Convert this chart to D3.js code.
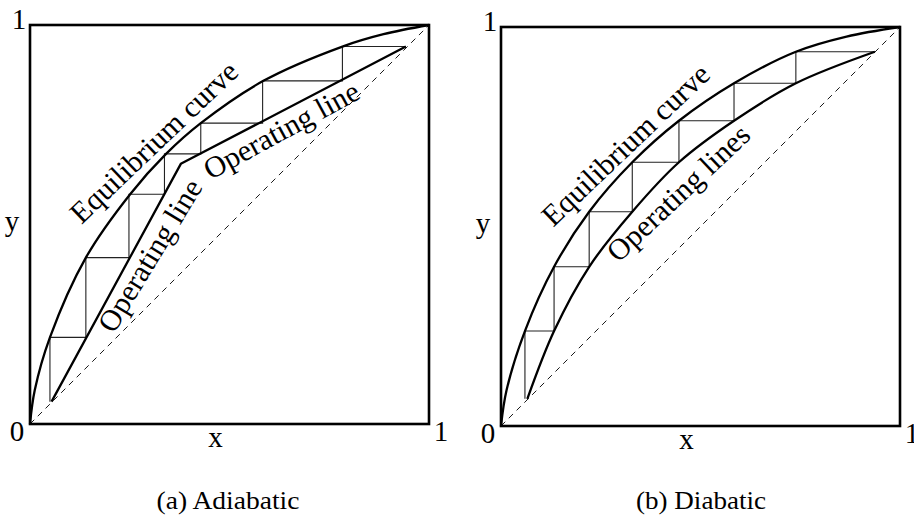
<!DOCTYPE html>
<html>
<head>
<meta charset="utf-8">
<script src="https://cdn.jsdelivr.net/npm/d3@7"></script>
<style>
  html, body { margin: 0; padding: 0; background: #fff; }
  svg { display: block; }
</style>
</head>
<body>
<svg id="chart" width="914" height="516"></svg>
<script>
// ---------- data ----------
const captions = ["(a) Adiabatic", "(b) Diabatic"];
const tickLabels = ["0", "1"];
const axisNames = ["x", "y"];

// Panel (a) adiabatic
const eqA_x = [0, 0.012, 0.050, 0.140, 0.251, 0.341, 0.428, 0.585, 0.783, 0.886, 1];
const eqA_y = [0, 0.085, 0.217, 0.417, 0.576, 0.677, 0.754, 0.860, 0.946, 0.977, 1];
const opA_x = [0.054, 0.378, 0.942];
const opA_y = [0.056, 0.652, 0.946];
const stairA_x = [0.050, 0.140, 0.248, 0.337, 0.428, 0.583, 0.783, 0.942];
const stairA_y = [0.056, 0.217, 0.417, 0.576, 0.677, 0.754, 0.860, 0.946];

// Panel (b) diabatic
const eqB_x = [0, 0.014, 0.060, 0.133, 0.221, 0.329, 0.446, 0.584, 0.739, 0.866, 1];
const eqB_y = [0, 0.090, 0.238, 0.399, 0.537, 0.661, 0.765, 0.859, 0.938, 0.976, 1];
const opB_x = [0.066, 0.133, 0.221, 0.329, 0.446, 0.584, 0.739, 0.937];
const opB_y = [0.068, 0.238, 0.399, 0.537, 0.661, 0.765, 0.859, 0.938];
const stairB_x = [0.060, 0.133, 0.221, 0.329, 0.446, 0.584, 0.739, 0.937];
const stairB_y = [0.068, 0.238, 0.399, 0.537, 0.661, 0.765, 0.859, 0.938];

// curve labels: text, position in data units, angle
const labelsA = [
  { text: "Equilibrium curve", x: 0.315, y: 0.702, angle: -43.6 },
  { text: "Operating line",    x: 0.306, y: 0.419, angle: -58.7 },
  { text: "Operating line",    x: 0.633, y: 0.731, angle: -28.6 }
];
const labelsB = [
  { text: "Equilibrium curve", x: 0.317, y: 0.700, angle: -43.6 },
  { text: "Operating lines",   x: 0.449, y: 0.579, angle: -43.3 }
];

// ---------- drawing ----------
const svg = d3.select("#chart");
const serif = "'Liberation Serif', 'Times New Roman', serif";
const smooth = d3.curveCatmullRom.alpha(0.5);

const panels = [
  { left: 30, top: 25, size: 399, eqX: eqA_x, eqY: eqA_y, opX: opA_x, opY: opA_y,
    opCurve: d3.curveLinear, stX: stairA_x, stY: stairA_y, labels: labelsA, caption: captions[0], capX: 228, capW: 143 },
  { left: 501, top: 27, size: 399, eqX: eqB_x, eqY: eqB_y, opX: opB_x, opY: opB_y,
    opCurve: smooth, stX: stairB_x, stY: stairB_y, labels: labelsB, caption: captions[1], capX: 701, capW: 130 }
];

panels.forEach(p => {
  const x = d3.scaleLinear().domain([0, 1]).range([p.left, p.left + p.size]);
  const y = d3.scaleLinear().domain([0, 1]).range([p.top + p.size, p.top]);
  const g = svg.append("g");

  // diagonal dashed line
  g.append("line")
    .attr("x1", x(0)).attr("y1", y(0)).attr("x2", x(1)).attr("y2", y(1))
    .attr("stroke", "#000").attr("stroke-width", 0.9)
    .attr("stroke-dasharray", "6,5");

  // staircase
  const pts = [[p.stX[0], p.stY[0]]];
  for (let i = 1; i < p.stY.length; i++) {
    pts.push([p.stX[i - 1], p.stY[i]]);
    pts.push([p.stX[i], p.stY[i]]);
  }
  g.append("path")
    .attr("d", d3.line().x(d => x(d[0])).y(d => y(d[1]))(pts))
    .attr("fill", "none").attr("stroke", "#222").attr("stroke-width", 1.1);

  // equilibrium curve
  const eq = p.eqX.map((v, i) => [v, p.eqY[i]]);
  g.append("path")
    .attr("d", d3.line().curve(smooth).x(d => x(d[0])).y(d => y(d[1]))(eq))
    .attr("fill", "none").attr("stroke", "#000").attr("stroke-width", 2.3);

  // operating line(s)
  const op = p.opX.map((v, i) => [v, p.opY[i]]);
  g.append("path")
    .attr("d", d3.line().curve(p.opCurve).x(d => x(d[0])).y(d => y(d[1]))(op))
    .attr("fill", "none").attr("stroke", "#000").attr("stroke-width", 2.3)
    .attr("stroke-linejoin", "round");

  // frame
  g.append("rect")
    .attr("x", x(0)).attr("y", y(1)).attr("width", x(1) - x(0)).attr("height", y(0) - y(1))
    .attr("fill", "none").attr("stroke", "#000").attr("stroke-width", 2.6);

  // tick labels
  const t = g.append("g").attr("font-family", serif).attr("font-size", 29).attr("fill", "#000");
  t.append("text").attr("x", x(0) - 11).attr("y", y(1) + 4).attr("text-anchor", "middle").text(tickLabels[1]);
  t.append("text").attr("x", x(0) - 13).attr("y", y(0) + 17).attr("text-anchor", "middle").text(tickLabels[0]);
  t.append("text").attr("x", x(1) + 12).attr("y", y(0) + 17).attr("text-anchor", "middle").text(tickLabels[1]);
  t.append("text").attr("x", x(0.465)).attr("y", y(0) + 23).attr("text-anchor", "middle").text(axisNames[0]);
  t.append("text").attr("x", x(0) - 18).attr("y", y(0.5) + 6).attr("text-anchor", "middle").text(axisNames[1]);

  // curve labels
  p.labels.forEach(l => {
    g.append("text")
      .attr("transform", `translate(${x(l.x)},${y(l.y)}) rotate(${l.angle})`)
      .attr("dy", "0.25em")
      .attr("text-anchor", "middle")
      .attr("font-family", serif).attr("font-size", 30)
      .text(l.text);
  });

  // caption
  g.append("text")
    .attr("x", p.capX).attr("y", 509)
    .attr("text-anchor", "middle")
    .attr("font-family", serif).attr("font-size", 25)
    .attr("textLength", p.capW).attr("lengthAdjust", "spacingAndGlyphs")
    .text(p.caption);
});
</script>
</body>
</html>
